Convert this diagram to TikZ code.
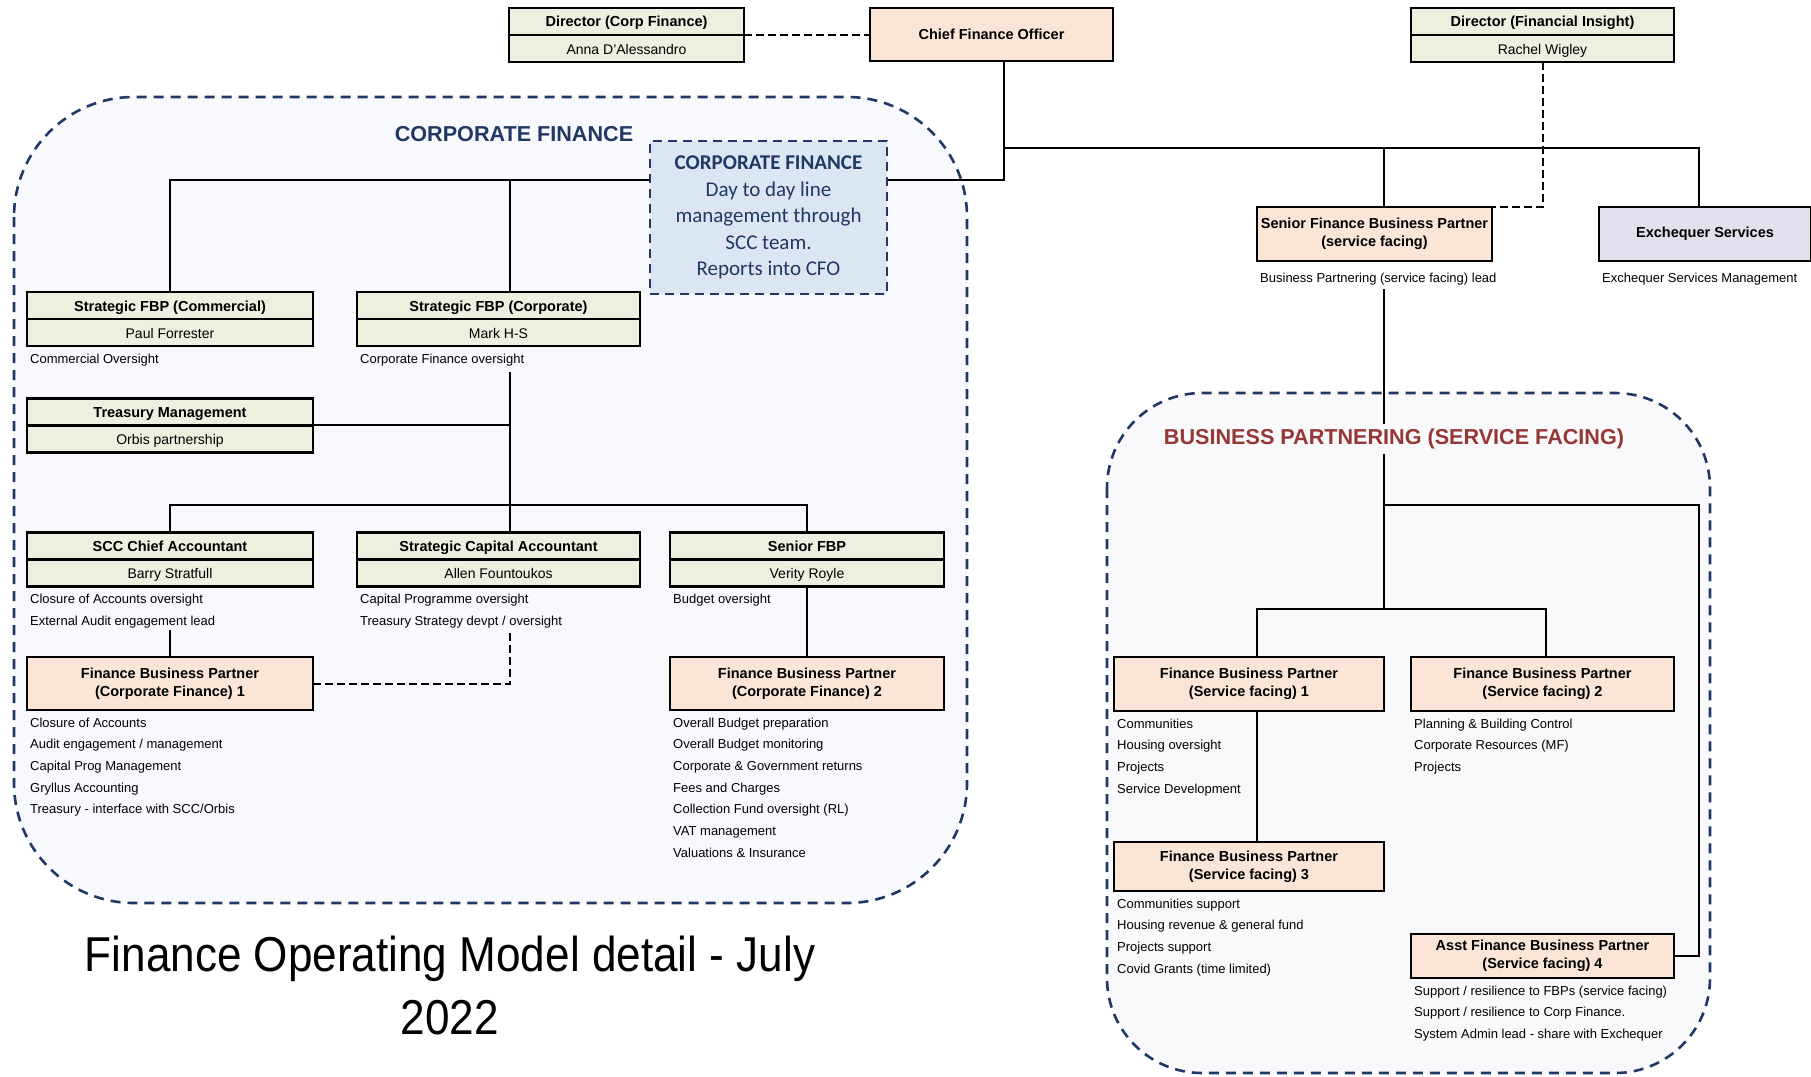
\documentclass[tikz,border=0pt]{standalone}
\usepackage{fontspec}
\setmainfont{Liberation Sans}
\newfontfamily\calloutfont{Carlito}
\newfontfamily\titlefont{Liberation Sans}[FakeStretch=0.9]

\definecolor{navy}{HTML}{1F3864}
\definecolor{bpred}{HTML}{953735}
\definecolor{headgreen}{HTML}{EBF1DE}
\definecolor{peach}{HTML}{FBE5D6}
\definecolor{lilac}{HTML}{E4DFEC}
\definecolor{calloutblue}{HTML}{DCE6F2}
\definecolor{corpfill}{HTML}{F7F9FD}
\definecolor{bpfill}{HTML}{F9F9FB}

% duties listed under a box, one line each
\newcommand{\duties}[3][17]{%
  \foreach \ditem [count=\k from 0] in {#3}
    \node[duty] (#2d\k) at ([xshift=3pt, yshift={-#1pt-21.7pt*\k}]#2.south west) {\ditem};}

\begin{document}
\begin{tikzpicture}[x=1pt, y=-1pt,
  box/.style={draw=black, line width=2.6pt, outer sep=0pt, inner sep=2pt, align=center},
  head/.style={box, fill=headgreen, minimum height=27pt, text height=12.5pt, text depth=1.5pt, font=\fontsize{14.5pt}{18pt}\selectfont\bfseries},
  person/.style={box, fill=headgreen, minimum height=27pt, text height=12.5pt, text depth=1.5pt, anchor=north, font=\fontsize{14pt}{17pt}\selectfont},
  fbp/.style={box, fill=peach, font=\fontsize{14.5pt}{18pt}\selectfont\bfseries},
  duty/.style={anchor=base west, inner sep=0pt, font=\fontsize{13pt}{15pt}\selectfont},
  conn/.style={line width=2.2pt},
  dashlink/.style={line width=2pt, dash pattern=on 8pt off 4pt},
  region/.style={draw=navy, line width=2.6pt, dash pattern=on 10pt off 7pt},
  heading/.style={font=\fontsize{21.6pt}{26pt}\selectfont\bfseries}]
\useasboundingbox (0,0) rectangle (1811,1076);

% dashed regions
\draw[region, fill=corpfill, rounded corners=120pt] (14,97) rectangle (967,903);
\draw[region, fill=bpfill, rounded corners=95pt] (1107,393) rectangle (1710,1073);

% junctions
\coordinate (cfbar) at (1004,180);
\coordinate (topbar) at (1004,148);
\coordinate (trunkup) at (510,372);
\coordinate (trunk) at (510,505);
\coordinate (capdash) at (510,632);
\coordinate (sccdrop) at (170,630);
\coordinate (bpup) at (1384,289);
\coordinate (bpbar) at (1384,505);
\coordinate (sfbar) at (1384,609);

% top row
\node[head, minimum width=235pt] (dircorp) at (626.5,21.5) {Director (Corp Finance)};
\node[person, minimum width=235pt] (dircorpn) at (dircorp.south) {Anna D'Alessandro};
\node[fbp, minimum width=243pt, minimum height=53pt] (cfo) at (991.5,34.5) {Chief Finance Officer};
\node[head, minimum width=263pt] (dirins) at (1542.5,21.5) {Director (Financial Insight)};
\node[person, minimum width=263pt] (dirinsn) at (dirins.south) {Rachel Wigley};

% service facing lead and exchequer
\node[fbp, minimum width=235pt, minimum height=54pt] (sfbp) at (1374.5,234) {Senior Finance Business Partner\\(service facing)};
\node[box, fill=lilac, minimum width=212pt, minimum height=54pt, font=\fontsize{14.5pt}{18pt}\selectfont\bfseries] (exch) at (1705,234) {Exchequer Services};
\duties[21]{sfbp}{Business Partnering (service facing) lead}
\duties[21]{exch}{Exchequer Services Management}

% corporate finance
\node[heading, text=navy] (cfhead) at (514,134) {CORPORATE FINANCE};
\node[draw=navy, fill=calloutblue, line width=2.6pt, dash pattern=on 9pt off 6pt, minimum width=237pt, minimum height=153pt, text=navy, align=center, font=\calloutfont\fontsize{21pt}{26.5pt}\selectfont] (callout) at (768.5,217.5) {\textbf{CORPORATE FINANCE}\\Day to day line\\management through\\SCC team.\\Reports into CFO};

\node[head, minimum width=286pt] (stratcom) at (170,305.5) {Strategic FBP (Commercial)};
\node[person, minimum width=286pt] (stratcomn) at (stratcom.south) {Paul Forrester};
\node[head, minimum width=283pt] (stratcorp) at (498.5,305.5) {Strategic FBP (Corporate)};
\node[person, minimum width=283pt] (stratcorpn) at (stratcorp.south) {Mark H-S};
\duties{stratcomn}{Commercial Oversight}
\duties{stratcorpn}{Corporate Finance oversight}

\node[head, minimum width=286pt] (treas) at (170,411.75) {Treasury Management};
\node[person, minimum width=286pt] (treasn) at (treas.south) {Orbis partnership};

\node[head, minimum width=286pt] (scc) at (170,546.25) {SCC Chief Accountant};
\node[person, minimum width=286pt] (sccn) at (scc.south) {Barry Stratfull};
\node[head, minimum width=283pt] (stratcap) at (498.5,546.25) {Strategic Capital Accountant};
\node[person, minimum width=283pt] (stratcapn) at (stratcap.south) {Allen Fountoukos};
\node[head, minimum width=274pt] (senior) at (807,546.25) {Senior FBP};
\node[person, minimum width=274pt] (seniorn) at (senior.south) {Verity Royle};
\duties{sccn}{Closure of Accounts oversight, External Audit engagement lead}
\duties{stratcapn}{Capital Programme oversight, Treasury Strategy devpt / oversight}
\duties{seniorn}{Budget oversight}

\node[fbp, minimum width=286pt, minimum height=53pt] (fbpcf1) at (170,683.5) {Finance Business Partner\\(Corporate Finance) 1};
\node[fbp, minimum width=274pt, minimum height=53pt] (fbpcf2) at (807,683.5) {Finance Business Partner\\(Corporate Finance) 2};
\duties{fbpcf1}{Closure of Accounts, Audit engagement / management, Capital Prog Management, Gryllus Accounting, Treasury - interface with SCC/Orbis}
\duties{fbpcf2}{Overall Budget preparation, Overall Budget monitoring, Corporate \& Government returns, Fees and Charges, Collection Fund oversight (RL), VAT management, Valuations \& Insurance}

% business partnering (service facing)
\node[fbp, minimum width=270pt, minimum height=54pt] (sf1) at (1249,684) {Finance Business Partner\\(Service facing) 1};
\node[fbp, minimum width=263pt, minimum height=54pt] (sf2) at (1542.5,684) {Finance Business Partner\\(Service facing) 2};
\node[fbp, minimum width=270pt, minimum height=49pt] (sf3) at (1249,866.5) {Finance Business Partner\\(Service facing) 3};
\node[fbp, minimum width=263pt, minimum height=44pt] (sfasst) at (1542.5,956) {Asst Finance Business Partner\\(Service facing) 4};
\duties{sf1}{Communities, Housing oversight, Projects, Service Development}
\duties{sf2}{Planning \& Building Control, Corporate Resources (MF), Projects}
\duties{sf3}{Communities support, Housing revenue \& general fund, Projects support, Covid Grants (time limited)}
\duties{sfasst}{Support / resilience to FBPs (service facing), Support / resilience to Corp Finance., System Admin lead - share with Exchequer}

% reporting lines
\draw[dashlink] (dircorp.south east) -- (dircorp.south east -| cfo.west);
\draw[conn] ([xshift=12.5pt]cfo.south) -- (cfbar) -- (callout.east |- cfbar);
\draw[conn] (topbar) -| ([xshift=-6pt]exch.north);
\draw[conn] (bpup |- topbar) -- (bpup |- sfbp.north);
\draw[dashlink] (dirinsn.south) |- (sfbp.north east);
\draw[conn] (callout.west |- cfbar) -| (stratcom.north);
\draw[conn] (trunk |- stratcorp.north) -- (trunk |- cfbar);
\draw[conn] (trunkup) -- (trunk);
\draw[conn] (treas.south east) -- (treas.south east -| trunk);
\draw[conn] (scc.north) |- (trunk) -| (senior.north);
\draw[conn] (trunk) -- (trunk |- stratcap.north);
\draw[conn] (seniorn.south) -- (fbpcf2.north);
\draw[conn] (sccdrop) -- (fbpcf1.north);
\draw[dashlink] (fbpcf1.east) -| (capdash);
\draw[conn] (bpup) -- (sfbar);
\draw[conn] (bpbar) -| ([xshift=25pt]sfasst.east) -- (sfasst.east);
\draw[conn] ([xshift=8pt]sf1.north) |- (sfbar) -| ([xshift=3.5pt]sf2.north);
\draw[conn] ([xshift=8pt]sf1.south) -- ([xshift=8pt]sf3.north);

\node[heading, text=bpred, fill=bpfill, inner xsep=2pt, inner ysep=5pt] (bphead) at (1394,439) {BUSINESS PARTNERING (SERVICE FACING)};

% title
\node[align=center, font=\titlefont\fontsize{49pt}{63pt}\selectfont] (title) at (450,985) {Finance Operating Model detail - July\\2022};
\end{tikzpicture}
\end{document}
